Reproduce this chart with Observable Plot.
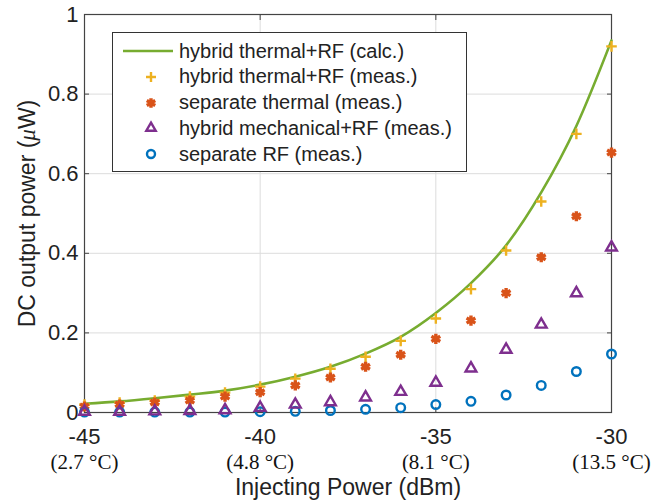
<!DOCTYPE html>
<html>
<head>
<meta charset="utf-8">
<script src="https://cdn.jsdelivr.net/npm/d3@7"></script>
<script src="https://cdn.jsdelivr.net/npm/@observablehq/plot@0.6"></script>
<style>
  html, body { margin: 0; padding: 0; background: #fff; }
  #wrap { position: relative; width: 665px; height: 504px; }
  #legend { position: absolute; left: 112px; top: 32px; width: 355px; height: 140px;
    border: 1.3px solid #333; background: #fff; box-sizing: border-box;
    font-family: "Liberation Sans", Arial, sans-serif; font-size: 20px; color: #222; }
  .row { position: absolute; left: 0; height: 26px; display: flex; align-items: center; }
  .row svg { width: 64px; height: 26px; flex: none; }
  .row span { margin-left: 2px; white-space: nowrap; }
</style>
</head>
<body>
<div id="wrap"></div>
<script>
const xValues = [-45, -44, -43, -42, -41, -40, -39, -38, -37, -36, -35, -34, -33, -32, -31, -30];
const hybridCalc = [0.022, 0.028, 0.036, 0.045, 0.055, 0.07, 0.09, 0.115, 0.148, 0.19, 0.25, 0.325, 0.42, 0.553, 0.72, 0.935];
const hybridMeas = [0.02, 0.025, 0.03, 0.04, 0.05, 0.065, 0.085, 0.11, 0.14, 0.18, 0.236, 0.31, 0.407, 0.53, 0.70, 0.92];
const sepThermal = [0.015, 0.02, 0.025, 0.03, 0.04, 0.051, 0.068, 0.088, 0.115, 0.145, 0.185, 0.231, 0.30, 0.39, 0.493, 0.653];
const hybridMech = [0.002, 0.002, 0.003, 0.004, 0.006, 0.012, 0.02, 0.026, 0.038, 0.052, 0.075, 0.111, 0.158, 0.221, 0.30, 0.415];
const sepRF = [0.001, 0.001, 0.001, 0.001, 0.001, 0.002, 0.003, 0.005, 0.008, 0.012, 0.02, 0.028, 0.044, 0.068, 0.103, 0.147];

const xTicks = [-45, -40, -35, -30];
const tempLabels = ["(2.7 °C)", "(4.8 °C)", "(8.1 °C)", "(13.5 °C)"];
const yTicks = [0, 0.2, 0.4, 0.6, 0.8, 1];
const yTickLabels = ["0", "0.2", "0.4", "0.6", "0.8", "1"];

const seriesNames = ["hybrid thermal+RF (calc.)", "hybrid thermal+RF (meas.)", "separate thermal (meas.)", "hybrid mechanical+RF (meas.)", "separate RF (meas.)"];
const colors = ["#77AC30", "#EDB120", "#D95319", "#7E2F8E", "#0072BD"];

const rows = (arr) => xValues.map((x, i) => ({x, y: arr[i]}));
const sans = "Liberation Sans, Arial, sans-serif";
const serif = "Liberation Serif, Times New Roman, serif";

const chart = Plot.plot({
  width: 665,
  height: 504,
  marginLeft: 84,
  marginRight: 54,
  marginTop: 14,
  marginBottom: 92,
  style: {fontFamily: sans, background: "#fff", overflow: "visible"},
  x: {domain: [-45, -30]},
  y: {domain: [0, 1]},
  marks: [
    Plot.gridX(xTicks, {stroke: "#dcdcdc", strokeOpacity: 1}),
    Plot.gridY(yTicks, {stroke: "#dcdcdc", strokeOpacity: 1}),
    Plot.axisX({ticks: xTicks, tickSize: -5, text: null, stroke: "#444", label: null}),
    Plot.axisX({anchor: "top", ticks: xTicks, tickSize: -5, text: null, stroke: "#444", label: null}),
    Plot.axisY({ticks: yTicks, tickSize: -5, text: null, stroke: "#444", label: null}),
    Plot.axisY({anchor: "right", ticks: yTicks, tickSize: -5, text: null, stroke: "#444", label: null}),
    Plot.axisX({ticks: xTicks, tickSize: 0, tickPadding: 16, fontSize: 22, fill: "#222", label: null, tickFormat: d => String(d)}),
    Plot.text(xTicks, {x: d => d, y: () => 0, text: tempLabels, dy: 50, fontFamily: serif, fontSize: 21, fill: "#111"}),
    Plot.axisY({ticks: yTicks, tickSize: 0, tickPadding: 6, fontSize: 22, fill: "#222", label: null, tickFormat: (d, i) => yTickLabels[i]}),
    Plot.text(["Injecting Power (dBm)"], {frameAnchor: "bottom", dy: 82, fontSize: 23, fill: "#222"}),
    Plot.text(["DC output power (μW)"], {frameAnchor: "left", textAnchor: "middle", dx: -57, rotate: -90, fontSize: 23, fill: "#222", className: "ylab"}),
    Plot.frame({stroke: "#444", strokeWidth: 1.2}),
    Plot.line(rows(hybridCalc), {x: "x", y: "y", stroke: colors[0], strokeWidth: 2.6, curve: "monotone-x"}),
    Plot.dot(rows(hybridMeas), {x: "x", y: "y", symbol: "plus", r: 3.5, stroke: colors[1], strokeWidth: 2.4}),
    Plot.dot(rows(sepThermal), {x: "x", y: "y", symbol: "asterisk", r: 4.8, stroke: colors[2], strokeWidth: 3.4}),
    Plot.dot(rows(sepRF), {x: "x", y: "y", symbol: "circle", r: 4.3, stroke: colors[4], strokeWidth: 2.4, fill: "none"}),
    Plot.dot(rows(hybridMech), {x: "x", y: "y", symbol: "triangle", r: 4, stroke: colors[3], strokeWidth: 2.4, fill: "none"})
  ]
});

// italic mu in y label
d3.select(chart).selectAll(".ylab text").each(function() {
  const t = d3.select(this);
  t.text(null);
  t.append("tspan").text("DC output power (");
  t.append("tspan").attr("font-style", "italic").attr("font-family", serif).text("μ");
  t.append("tspan").text("W)");
});

const wrap = document.getElementById("wrap");
wrap.appendChild(chart);

// legend
const legend = document.createElement("div");
legend.id = "legend";
const symbolsSvg = [
  `<line x1="10" x2="60" y1="13" y2="13" stroke="${colors[0]}" stroke-width="2.6"/>`,
  `<path d="M38,8V18M33,13H43" stroke="${colors[1]}" stroke-width="2.4" fill="none"/>`,
  `<path d="${d3.symbol(d3.symbolAsterisk, 4.6*4.6*Math.PI)()}" transform="translate(38,13)" stroke="${colors[2]}" stroke-width="3.4" fill="none"/>`,
  `<path d="${d3.symbol(d3.symbolTriangle, 3.5*3.5*Math.PI)()}" transform="translate(38,13)" stroke="${colors[3]}" stroke-width="2.4" fill="none"/>`,
  `<circle cx="38" cy="13" r="4" stroke="${colors[4]}" stroke-width="2.4" fill="none"/>`
];
seriesNames.forEach((name, i) => {
  const row = document.createElement("div");
  row.className = "row";
  row.style.top = (5 + i * 25.8) + "px";
  row.innerHTML = `<svg viewBox="0 0 64 26">${symbolsSvg[i]}</svg><span>${name}</span>`;
  legend.appendChild(row);
});
wrap.appendChild(legend);
</script>
</body>
</html>
